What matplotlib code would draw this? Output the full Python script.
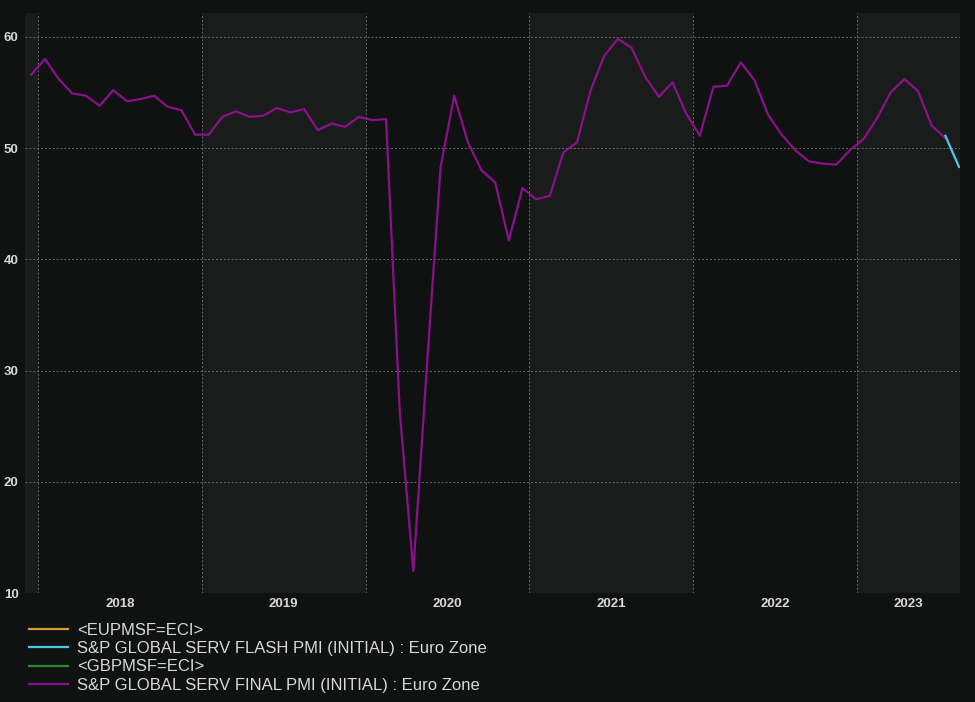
import matplotlib
matplotlib.use("Agg")
import matplotlib.pyplot as plt
from matplotlib.lines import Line2D

final_pmi = [56.6,
    58.0,56.2,54.9,54.7,53.8,55.2,54.2,54.4,54.7,53.7,53.4,51.2,
    51.2,52.8,53.3,52.8,52.9,53.6,53.2,53.5,51.6,52.2,51.9,52.8,
    52.5,52.6,26.4,12.0,30.5,48.3,54.7,50.5,48.0,46.9,41.7,46.4,
    45.4,45.7,49.6,50.5,55.2,58.3,59.8,59.0,56.4,54.6,55.9,53.1,
    51.1,55.5,55.6,57.7,56.1,53.0,51.2,49.8,48.8,48.6,48.5,49.8,
    50.8,52.7,55.0,56.2,55.1,52.0,50.9]
flash_pmi = [51.1, 48.3]   # Jul 2023, Aug 2023
flash_start = 67
years = [2018, 2019, 2020, 2021, 2022, 2023]
yticks = [10, 20, 30, 40, 50, 60]

plt.rcParams['font.family'] = ['Liberation Sans', 'DejaVu Sans']
bg = "#0f1211"
band = "#1a1c1b"
txt = "#d8d8d8"

fig = plt.figure(figsize=(9.75, 7.02), dpi=100, facecolor=bg)
ax = fig.add_axes([0.026, 0.155, 0.959, 0.826])
ax.set_facecolor(bg)
xmin, xmax = -0.44, 68.1
ax.set_xlim(xmin, xmax)
ax.set_ylim(10, 62.1)

bounds = [xmin] + [0.5 + 12 * k for k in range(6)] + [xmax]
for i in range(len(bounds) - 1):
    if i % 2 == 0:
        ax.axvspan(bounds[i], bounds[i + 1], color=band, lw=0, zorder=0)
for b in bounds[1:-1]:
    ax.axvline(b, color="#6a6a6a", lw=0.7, ls=(0, (2, 2)), zorder=1)
for y in yticks:
    ax.axhline(y, color="#6a6a6a", lw=0.7, ls=(0, (2, 2)), zorder=1)

ax.plot(range(len(final_pmi)), final_pmi, color="#8b108b", lw=1.6, zorder=3)
ax.plot(range(flash_start, flash_start + len(flash_pmi)), flash_pmi, color="#4cc6ea", lw=1.6, zorder=4)

for s in ax.spines.values():
    s.set_visible(False)
ax.set_yticks(yticks)
ax.set_yticklabels([str(v) for v in yticks], color=txt, fontsize=9.5, fontweight="bold")
ax.tick_params(axis="y", length=0, pad=5)
ax.set_xticks([])
for k, yr in enumerate(years):
    lo, hi = 0.5 + 12 * k, min(12.5 + 12 * k, xmax)
    ax.text((lo + hi) / 2, 9.0, str(yr), ha="center", va="center",
            color=txt, fontsize=9.5, fontweight="bold", clip_on=False)

handles = [Line2D([], [], color="#d9993a", lw=1.6),
           Line2D([], [], color="#4cc6ea", lw=1.6),
           Line2D([], [], color="#2a8a2a", lw=1.6),
           Line2D([], [], color="#8b108b", lw=1.6)]
labels = ["<EUPMSF=ECI>", "S&P GLOBAL SERV FLASH PMI (INITIAL) : Euro Zone",
          "<GBPMSF=ECI>", "S&P GLOBAL SERV FINAL PMI (INITIAL) : Euro Zone"]
fig.legend(handles, labels, loc="upper left", bbox_to_anchor=(0.030, 0.113),
           frameon=False, fontsize=12, labelcolor=txt, handlelength=2.3,
           handletextpad=0.55, labelspacing=0.2, borderpad=0, borderaxespad=0)

fig.savefig("out.png", dpi=100, facecolor=bg)
